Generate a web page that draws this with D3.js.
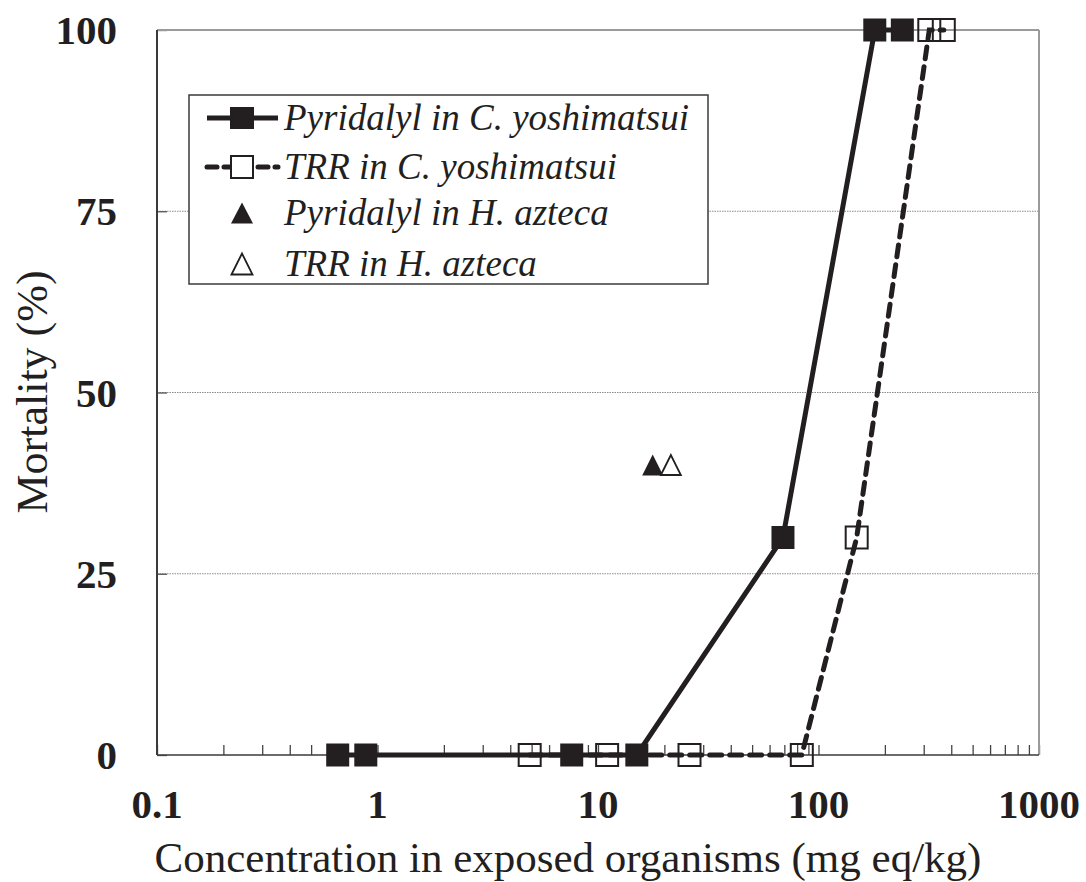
<!DOCTYPE html>
<html><head><meta charset="utf-8">
<script src="https://cdn.jsdelivr.net/npm/d3@7"></script>
<style>
html,body{margin:0;padding:0;background:#fff;}
text{font-family:"Liberation Serif","Times New Roman",serif;fill:#231f20;}
</style></head>
<body><svg id="c" width="1086" height="882"></svg>
<script>
// ---- data ----
const pyridalylC = [
  {x:0.66,y:0},{x:0.885,y:0},{x:7.6,y:0},{x:15,y:0},{x:69,y:30},{x:180,y:100},{x:240,y:100}
];
const trrC = [
  {x:4.9,y:0},{x:11,y:0},{x:26,y:0},{x:84,y:0},{x:149,y:30},{x:318,y:100},{x:370,y:100}
];
const pyridalylH = [{x:17.7,y:40}];
const trrH = [{x:21.4,y:40}];
const xTickValues = [0.1,1,10,100,1000];
const xTickLabels = ["0.1","1","10","100","1000"];
const yTickValues = [0,25,50,75,100];
const gridValues = [25,50,75];
const legendLabels = ["Pyridalyl in C. yoshimatsui","TRR in C. yoshimatsui","Pyridalyl in H. azteca","TRR in H. azteca"];
const xTitle = "Concentration in exposed organisms (mg eq/kg)";
const yTitle = "Mortality (%)";

// ---- layout ----
const L=157, R=1039, T=30, B=755;
const svg = d3.select("#c");
const x = d3.scaleLog().domain([0.1,1000]).range([L,R]);
const y = d3.scaleLinear().domain([0,100]).range([B,T]);
const ink = "#231f20";

// gridlines
svg.append("g").selectAll("line").data(gridValues).join("line")
  .attr("x1",L).attr("x2",R).attr("y1",d=>y(d)).attr("y2",d=>y(d))
  .attr("stroke","#8a8a8a").attr("stroke-width",1.2).attr("stroke-dasharray","1.5,1");

// minor ticks (inward)
const minor = [];
for (let e=-1;e<3;e++) for (let m=1;m<=9;m++) minor.push(m*Math.pow(10,e));
minor.push(1000);
const minorAxis = d3.axisBottom(x).tickValues(minor).tickSizeInner(-10).tickSizeOuter(0).tickFormat("");
const gm = svg.append("g").attr("transform",`translate(0,${B})`).call(minorAxis);
gm.select(".domain").remove();
gm.selectAll(".tick line").attr("stroke","#444").attr("stroke-width",1.3);

// y ticks inward
const yAxis = d3.axisLeft(y).tickValues(yTickValues).tickSizeInner(-10).tickSizeOuter(0).tickFormat("");
const gy = svg.append("g").attr("transform",`translate(${L},0)`).call(yAxis);
gy.select(".domain").remove();
gy.selectAll(".tick line").attr("stroke","#555").attr("stroke-width",1.3);

// frame
svg.append("line").attr("x1",L).attr("x2",R).attr("y1",T).attr("y2",T).attr("stroke","#9a9a9a").attr("stroke-width",2);
svg.append("line").attr("x1",R).attr("x2",R).attr("y1",T).attr("y2",B).attr("stroke","#9a9a9a").attr("stroke-width",2);
svg.append("line").attr("x1",L).attr("x2",R).attr("y1",B).attr("y2",B).attr("stroke","#3a3a3a").attr("stroke-width",1.6);
svg.append("line").attr("x1",L).attr("x2",L).attr("y1",T).attr("y2",B).attr("stroke","#3a3a3a").attr("stroke-width",2);

// tick labels
const fsTick = 41;
svg.append("g").selectAll("text").data(xTickValues).join("text")
  .attr("x",d=>x(d)).attr("y",818).attr("text-anchor","middle")
  .attr("font-size",fsTick).attr("font-weight","bold")
  .text((d,i)=>xTickLabels[i]);
svg.append("g").selectAll("text").data(yTickValues).join("text")
  .attr("x",117).attr("y",d=>y(d)+14).attr("text-anchor","end")
  .attr("font-size",fsTick).attr("font-weight","bold")
  .text(d=>d);

// titles
svg.append("text").attr("x",568).attr("y",872).attr("text-anchor","middle")
  .attr("font-size",43).text(xTitle);
svg.append("text").attr("transform","translate(47,392) rotate(-90)").attr("text-anchor","middle")
  .attr("font-size",44).text(yTitle);

// lines
const line = d3.line().x(d=>x(d.x)).y(d=>y(d.y));
svg.append("path").datum(trrC).attr("d",line).attr("fill","none")
  .attr("stroke",ink).attr("stroke-width",5).attr("stroke-dasharray","12,8").attr("stroke-linecap","round");
svg.append("path").datum(pyridalylC).attr("d",line).attr("fill","none")
  .attr("stroke",ink).attr("stroke-width",5);

// markers
const S=23;
svg.append("g").selectAll("rect").data(trrC).join("rect")
  .attr("x",d=>x(d.x)-11).attr("y",d=>y(d.y)-11).attr("width",22).attr("height",22)
  .attr("fill","none").attr("stroke",ink).attr("stroke-width",2);
svg.append("g").selectAll("rect").data(pyridalylC).join("rect")
  .attr("x",d=>x(d.x)-S/2).attr("y",d=>y(d.y)-S/2).attr("width",S).attr("height",S)
  .attr("fill",ink);
const tri = (cx,cy,w,h)=>`M${cx-w/2},${cy+h/2}L${cx},${cy-h/2}L${cx+w/2},${cy+h/2}Z`;
svg.append("g").selectAll("path").data(pyridalylH).join("path")
  .attr("d",d=>tri(x(d.x),y(d.y),21,21)).attr("fill",ink);
svg.append("g").selectAll("path").data(trrH).join("path")
  .attr("d",d=>tri(x(d.x),y(d.y),20,20)).attr("fill","#fff").attr("stroke",ink).attr("stroke-width",1.8);

// legend
const lg = svg.append("g");
lg.append("rect").attr("x",189).attr("y",95).attr("width",519).attr("height",189)
  .attr("fill","#fff").attr("stroke","#3a3a3a").attr("stroke-width",1.5);
const rowsY = [118,167,213,264];
const lx1=207, lx2=278, lc=242;
lg.append("line").attr("x1",lx1).attr("x2",lx2).attr("y1",rowsY[0]).attr("y2",rowsY[0]).attr("stroke",ink).attr("stroke-width",5);
lg.append("rect").attr("x",lc-12).attr("y",rowsY[0]-11).attr("width",24).attr("height",22).attr("fill",ink);
lg.append("line").attr("x1",lx1).attr("x2",lx2).attr("y1",rowsY[1]).attr("y2",rowsY[1]).attr("stroke",ink).attr("stroke-width",5)
  .attr("stroke-dasharray","10,7").attr("stroke-linecap","round");
lg.append("rect").attr("x",lc-11).attr("y",rowsY[1]-11).attr("width",22).attr("height",22).attr("fill","#fff").attr("stroke",ink).attr("stroke-width",2);
lg.append("path").attr("d",tri(lc,rowsY[2],22,21)).attr("fill",ink);
lg.append("path").attr("d",tri(lc,rowsY[3],21,21)).attr("fill","#fff").attr("stroke",ink).attr("stroke-width",1.8);
lg.selectAll("text.lt").data(legendLabels).join("text").attr("class","lt")
  .attr("x",284).attr("y",(d,i)=>rowsY[i]+12).attr("font-size",37).attr("font-style","italic").text(d=>d);
</script></body></html>
